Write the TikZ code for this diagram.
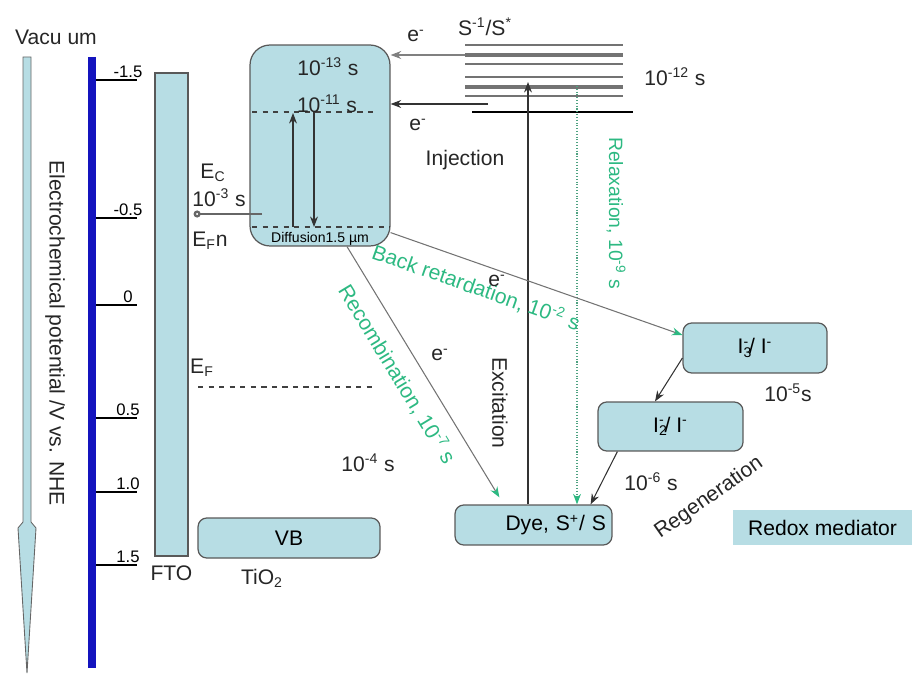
\documentclass[tikz,border=0pt]{standalone}
\usepackage{fontspec}
\setmainfont{Liberation Sans}
\usetikzlibrary{positioning, arrows.meta, calc}
\definecolor{bandblue}{RGB}{183,221,228}
\definecolor{axisblue}{RGB}{20,20,190}
\definecolor{relgreen}{RGB}{45,185,130}

\begin{document}
\begin{tikzpicture}[
    x=0.02cm, y=-0.02cm,
    font=\fontsize{12}{14}\selectfont,
    band/.style={rectangle, draw=black!65, fill=bandblue, rounded corners=5pt, inner sep=0pt, line width=0.7pt},
    txt/.style={inner sep=1pt, text=black!85},
    gtxt/.style={inner sep=1pt, text=relgreen},
    ticklbl/.style={inner sep=1pt, font=\fontsize{9.5}{11}\selectfont},
    level/.style={draw=black!55, line width=0.6pt},
    lvldash/.style={dashed, draw=black!75, line width=0.6pt},
    arr/.style={-{Stealth[length=6pt, width=4.5pt]}, draw=black!80, line width=0.6pt},
    garr/.style={-{Stealth[length=6pt, width=4.5pt, color=relgreen]}, draw=black!55, line width=0.6pt}
]
\useasboundingbox (0,0) rectangle (912,675);

% potential scale
\node[txt] (vac) at (56,37) {Vacu um};
\draw[fill=bandblue, draw=gray!80!black, line width=0.5pt]
    (23,57) -- (31,57) -- (31,522) -- (36,528) -- (27,673) -- (18,528) -- (23,522) -- cycle;
\node[txt, rotate=-90] (ylab) at (55,333) {Electrochemical potential /V vs. NHE};
\draw[axisblue, line width=4.5pt] (92,57) -- (92,668);
\foreach \y/\t in {80/-1.5, 218/-0.5, 305/0, 418/0.5, 492/1.0, 565/1.5} {
    \draw[black, line width=1pt] (96,\y) -- (137,\y);
    \node[ticklbl, anchor=south] (tick\y) at (128,\y) {\t};
}

% FTO and TiO2
\node[band, rounded corners=0pt, minimum width=0.66cm, minimum height=9.66cm] (fto) at (171.5,314.5) {};
\node[txt] (ftolbl) [below=0.15cm of fto] {FTO};
\node[band, minimum width=3.64cm, minimum height=0.8cm] (vb) at (289,538) {VB};
\node[txt] (tio) at (262,578) {TiO\textsubscript{2}};

% conduction band
\node[band, rounded corners=0.4cm, minimum width=2.8cm, minimum height=4.02cm] (cb) at (320,145.5) {};
\draw[lvldash] (252,112) -- (378,112);
\draw[lvldash] (252,227) -- (390,227);
\node[txt] (t13) at (328,67) {10\textsuperscript{-13} s};
\node[txt] (t11) at (327,104) {10\textsuperscript{-11} s};
\node[inner sep=0pt, font=\fontsize{8}{9}\selectfont] (diff) at (320,239) {Diffusion1.5 µm};
\coordinate (upb) at (293,227);
\coordinate (upt) at (293,113);
\coordinate (dnt) at (314,112);
\coordinate (dnb) at (314,227);
\draw[arr] (upb) -- (upt);
\draw[arr] (dnt) -- (dnb);

\node[txt] (ec) at (213,173) {E\textsubscript{C}};
\node[txt] (t3) at (219,198) {10\textsuperscript{-3} s};
\node[txt] (efn) at (210,241) {E\textsubscript{F}n};
\coordinate (cbin) at (262,214);
\draw[-{Circle[open, length=4pt]}, draw=black!60, line width=1.3pt] (cbin) -- ([xshift=0.1cm]fto.east |- cbin);
\node[txt] (ef) at (202,368) {E\textsubscript{F}};
\draw[lvldash] (198,387) -- (373,387);
\node[txt] (t4) at (368,463) {10\textsuperscript{-4} s};

% dye levels
\foreach \y/\w in {45/0.6, 55/1.8, 64/0.6, 77/0.6, 87/1.8, 96/0.6}
    \draw[level, line width=\w pt] (465,\y) -- (623,\y);
\draw[black, line width=1.3pt] (472,112) -- (633,112);
\node[txt] (sstar) at (485,27) {S\textsuperscript{-1}/S\textsuperscript{*}};
\node[txt] (t12) at (675,77) {10\textsuperscript{-12} s};

% injection
\coordinate (inj1) at (465,55);
\coordinate (inj2) at (488,104);
\draw[arr, draw=black!50, line width=1.6pt] (inj1) -- (cb.east |- inj1);
\draw[arr] (inj2) -- (cb.east |- inj2);
\node[txt] (e1) at (416,36) {e\textsuperscript{-}};
\node[txt] (e2) at (418,125) {e\textsuperscript{-}};
\node[txt] (injlbl) at (465,160) {Injection};

% dye and redox mediator
\node[band, minimum width=3.14cm, minimum height=0.8cm, text width=2.9cm, align=right] (dye) at (533.5,525) {Dye, S\textsuperscript{+}/ S};
\node[band, minimum width=2.88cm, minimum height=1.0cm] (i3) at (755,348) {I\rlap{\textsubscript{3}}\textsuperscript{-}/ I\textsuperscript{-}};
\node[band, minimum width=2.9cm, minimum height=0.98cm] (i2) at (670.5,426.5) {I\rlap{\textsubscript{2}}\textsuperscript{-}/ I\textsuperscript{-}};
\node[rectangle, fill=bandblue, minimum width=3.58cm, minimum height=0.7cm, inner sep=0pt] (redox) at (822.5,527.5) {Redox mediator};
\node[txt] (t5) at (788,393) {10\textsuperscript{-5}s};
\node[txt] (t6) at (651,482) {10\textsuperscript{-6} s};
\node[txt, rotate=35] (regen) at (709,498) {Regeneration};
\draw[arr] ([yshift=-0.2cm]i3.west) -- ([xshift=-0.31cm]i2.north);
\draw[arr] ([xshift=0.4cm]i2.south west) -- ([xshift=-0.44cm]dye.north east);

% excitation and relaxation
\coordinate (exc) at (528,82);
\draw[arr] (dye.north -| exc) -- (exc);
\node[txt, rotate=-90] (exclbl) at (500,403) {Excitation};
\coordinate (rel) at (577,86);
\draw[garr, densely dotted, draw=relgreen!60!gray] (rel) -- (dye.north -| rel);
\node[gtxt, rotate=-90, font=\fontsize{11}{13}\selectfont] (rellbl) at (616,213) {Relaxation, 10\textsuperscript{-9} s};

% back reactions
\draw[garr] ([yshift=0.28cm]cb.south east) -- node[gtxt, sloped, below=0.22cm, pos=0.32] (backlbl) {Back retardation, 10\textsuperscript{-2} s} ([yshift=0.26cm]i3.west);
\draw[garr] ([xshift=0.54cm]cb.south) -- node[gtxt, sloped, below=0.22cm, pos=0.46] (reclbl) {Recombination, 10\textsuperscript{-7} s} ([xshift=0.9cm, yshift=0.14cm]dye.north west);
\node[txt] (e3) at (497,281) {e\textsuperscript{-}};
\node[txt] (e4) at (440,355) {e\textsuperscript{-}};
\end{tikzpicture}
\end{document}
